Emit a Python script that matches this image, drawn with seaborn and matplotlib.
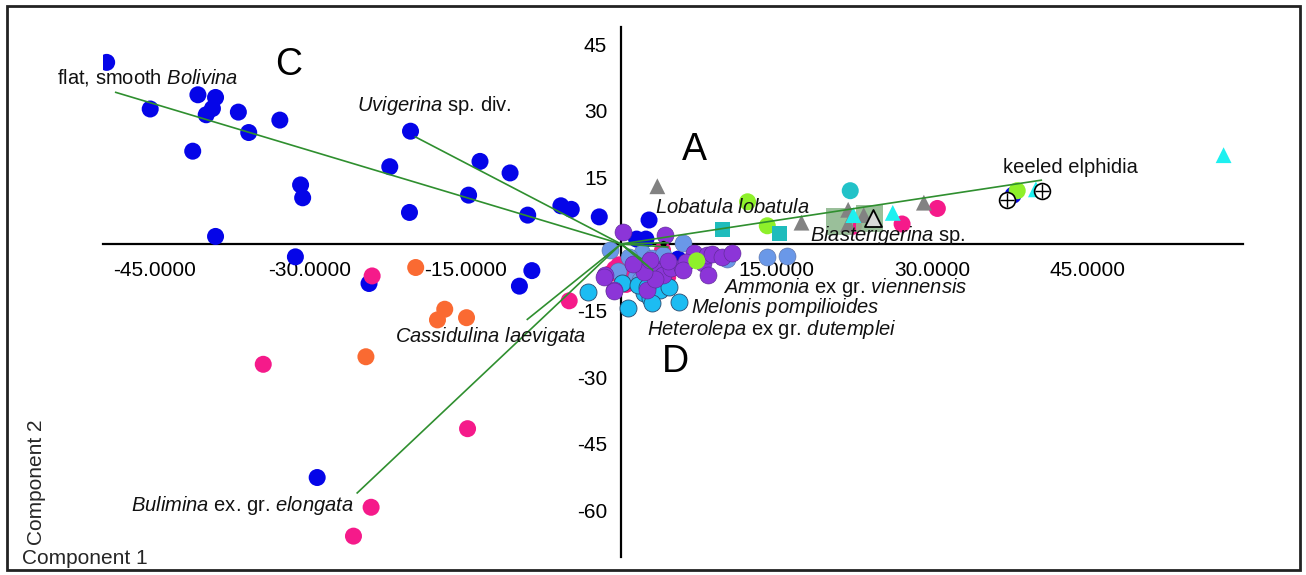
import numpy as np
import pandas as pd
import matplotlib
matplotlib.use("Agg")
import matplotlib.pyplot as plt
from matplotlib.patches import Rectangle
import seaborn as sns

# ---------------- data (PCA scores, Component 1 / Component 2) ----------------
blue_x = [-49.6, -45.4, -40.8, -39.1, -39.4, -40.0, -36.9, -35.9, -32.9, -41.3, -30.9, -30.7,
          -39.1, -31.4, -22.3, -20.3, -20.4, -13.6, -14.7, -10.7, -9.0, -5.8, -4.8, -2.1,
          -8.6, -9.8, -24.3, -29.3, 2.7, 1.5, 2.4, 5.5, 4.5, 37.8]
blue_y = [40.9, 30.4, 33.6, 33.0, 30.5, 29.1, 29.7, 25.1, 27.9, 20.9, 13.3, 10.4,
          1.7, -2.9, 17.4, 25.4, 7.1, 18.6, 11.0, 16.0, 6.5, 8.6, 7.8, 6.1,
          -6.0, -9.5, -8.9, -52.6, 5.4, 1.1, 1.1, -3.4, -6.8, 11.0]

pink_x = [-24.0, -34.5, -14.8, -24.1, -25.8, -5.0, -0.2, 0.6, -0.6, 0.9, 1.1, 4.0, 4.5,
          0.5, -1.0, 22.4, 27.1, 30.5]
pink_y = [-7.2, -27.1, -41.6, -59.3, -65.8, -12.8, -4.7, -6.0, -5.6, -7.6, -8.6, -1.4, -7.4,
          -9.1, -6.6, 4.0, 4.5, 8.0]

orange_x = [-19.8, -17.0, -17.7, -14.9, -24.6]
orange_y = [-5.3, -14.7, -17.1, -16.6, -25.4]

cornflower_x = [-1.1, 2.0, 3.0, 6.0, 1.4, 1.8, 10.2, 14.1, 16.0, 0.8, 4.0, -0.3, 2.6]
cornflower_y = [-1.4, -2.1, -3.2, 0.2, -7.4, -8.1, -3.4, -2.9, -2.7, -3.0, -2.5, -6.0, -4.2]

skyblue_x = [-3.2, 0.1, 0.7, 2.2, 2.8, 3.6, 3.8, 4.6, 5.6, 1.6, 3.0, 2.5]
skyblue_y = [-10.9, -8.9, -14.5, -11.1, -12.2, -8.9, -10.4, -9.6, -13.0, -9.2, -13.2, -9.8]

purple_x = [0.2, 4.2, -1.5, -0.7, 2.5, 3.0, 3.5, 4.0, 3.3, 2.2, 4.8, 5.9, 7.0, 7.9, 8.4,
            6.3, 8.3, 8.8, 9.7, 10.7, 6.0, -1.6, -0.7, 1.2, 2.8, 4.5]
purple_y = [2.8, 2.0, -7.0, -10.4, -10.4, -5.0, -6.0, -7.0, -8.0, -6.2, -5.5, -5.1, -2.1,
            -4.3, -7.0, -4.0, -2.5, -2.2, -2.9, -2.1, -5.9, -7.4, -10.7, -4.5, -3.5, -3.8]

green_x = [12.2, 14.1, 38.2, 7.3]
green_y = [9.5, 4.1, 12.0, -3.8]

tealsq_x = [9.8, 15.3]
tealsq_y = [3.3, 2.4]

turq_x = [22.1]
turq_y = [12.0]

bigsq_x = [21.1, 24.0]
bigsq_y = [5.0, 5.8]

graytri_x = [3.5, 17.4, 21.9, 21.9, 23.4, 29.2]
graytri_y = [13.0, 4.8, 7.7, 4.5, 6.5, 9.3]

cyantri_x = [26.2, 22.4, 40.0, 58.1]
cyantri_y = [7.0, 6.5, 12.3, 20.0]

opentri_x = [24.3]
opentri_y = [5.8]

oplus_x = [37.2, 40.6]
oplus_y = [9.9, 12.0]

dot_x = [4.1]
dot_y = [0.0]

# Loadings (biplot vectors)
vec_names = ["flat, smooth Bolivina", "Uvigerina sp. div.", "keeled elphidia",
             "Lobatula lobatula", "Biasterigerina sp.", "Ammonia ex gr. viennensis",
             "Melonis pompilioides", "Heterolepa ex gr. dutemplei",
             "Cassidulina laevigata", "Bulimina ex. gr. elongata"]
vec_x = [-48.8, -19.9, 40.6, 4.6, 4.6, 2.0, 3.1, 2.6, -9.1, -25.5]
vec_y = [34.2, 24.2, 14.4, 0.3, -0.7, -3.4, -6.0, -5.0, -17.1, -56.2]

x_ticks = [-45, -30, -15, 15, 30, 45]
y_ticks = [45, 30, 15, -15, -30, -45, -60]
x_ticklabels = ["-45.0000", "-30.0000", "-15.0000", "15.0000", "30.0000", "45.0000"]
y_ticklabels = ["45", "30", "15", "-15", "-30", "-45", "-60"]

# ---------------- styling ----------------
sns.set_style("white")
plt.rcParams['font.family'] = ['Liberation Sans', 'DejaVu Sans']
plt.rcParams['mathtext.fontset'] = 'custom'
plt.rcParams['mathtext.rm'] = 'Liberation Sans'
plt.rcParams['mathtext.it'] = 'Liberation Sans:italic'
plt.rcParams['mathtext.bf'] = 'Liberation Sans:bold'

W, H = 1306, 575
fig = plt.figure(figsize=(W / 100, H / 100), dpi=100)
fig.patch.set_facecolor("white")

x0, x1 = -50.0, 60.0
y0, y1 = -70.5, 48.8
px_left, px_right = 102.5, 1243.3
px_top, px_bot = 27.3, 557.0
ax = fig.add_axes([px_left / W, 1 - px_bot / H, (px_right - px_left) / W, (px_bot - px_top) / H])
ax.set_xlim(x0, x1)
ax.set_ylim(y0, y1)
ax.set_facecolor("white")

S = 150
groups = [
    (blue_x, blue_y, dict(color="#0505e8", marker="o", s=S, edgecolor="none", linewidth=0)),
    (pink_x, pink_y, dict(color="#f51a8a", marker="o", s=S, edgecolor="none", linewidth=0)),
    (orange_x, orange_y, dict(color="#fa6a32", marker="o", s=S, edgecolor="none", linewidth=0)),
    (cornflower_x, cornflower_y, dict(color="#6a98e8", marker="o", s=S, edgecolor="#5a6fa0", linewidth=0.4)),
    (skyblue_x, skyblue_y, dict(color="#1cbcf2", marker="o", s=S, edgecolor="#2a4a70", linewidth=0.6)),
    (purple_x, purple_y, dict(color="#8c35d8", marker="o", s=S, edgecolor="#5a2a90", linewidth=0.4)),
    (green_x, green_y, dict(color="#8ef02a", marker="o", s=S, edgecolor="none", linewidth=0)),
    (bigsq_x, bigsq_y, dict(color="#8fb88f", marker="s", s=380, edgecolor="none", linewidth=0, alpha=0.9)),
    (tealsq_x, tealsq_y, dict(color="#1fbcbc", marker="s", s=120, edgecolor="none", linewidth=0)),
    (turq_x, turq_y, dict(color="#22c2c8", marker="o", s=S, edgecolor="none", linewidth=0)),
    (graytri_x, graytri_y, dict(color="#828282", marker="^", s=130, edgecolor="none", linewidth=0)),
    (cyantri_x, cyantri_y, dict(color="#1ef0f0", marker="^", s=130, edgecolor="none", linewidth=0)),
    (opentri_x, opentri_y, dict(color="#d9d9d9", marker="^", s=150, edgecolor="black", linewidth=1.3)),
    (oplus_x, oplus_y, dict(color="white", marker="o", s=130, edgecolor="black", linewidth=1.2)),
    (oplus_x, oplus_y, dict(color="black", marker="+", s=100, linewidth=1.0)),
    (dot_x, dot_y, dict(color="black", marker="o", s=20, edgecolor="none", linewidth=0)),
]
for i, (gx, gy, kw) in enumerate(groups):
    df = pd.DataFrame({"x": gx, "y": gy})
    sns.scatterplot(data=df, x="x", y="y", ax=ax, legend=False, zorder=3 + i * 0.01, **kw)

# biplot vectors
for vx, vy in zip(vec_x, vec_y):
    ax.plot([0, vx], [0, vy], color="#2f8f2f", lw=1.2, zorder=4, solid_capstyle="butt")

# axes through origin
for side in ["top", "right"]:
    ax.spines[side].set_visible(False)
ax.spines["left"].set_position(("data", 0))
ax.spines["bottom"].set_position(("data", 0))
for side in ["left", "bottom"]:
    ax.spines[side].set_linewidth(1.6)
    ax.spines[side].set_color("black")
    ax.spines[side].set_zorder(2)
ax.set_xticks(x_ticks)
ax.set_xticklabels(x_ticklabels)
ax.set_yticks(y_ticks)
ax.set_yticklabels(y_ticklabels)
ax.tick_params(axis="both", direction="out", length=7, width=1.5, labelsize=15, colors="black")
ax.tick_params(axis="x", pad=5)
ax.tick_params(axis="y", pad=3)
ax.set_xlabel("")
ax.set_ylabel("")
ax.grid(False)

# labels
label_text = [
    "flat, smooth $\\mathit{Bolivina}$",
    "$\\mathit{Uvigerina}$ sp. div.",
    "keeled elphidia",
    "$\\mathit{Lobatula\\ lobatula}$",
    "$\\mathit{Biasterigerina}$ sp.",
    "$\\mathit{Ammonia}$ ex gr. $\\mathit{viennensis}$",
    "$\\mathit{Melonis\\ pompilioides}$",
    "$\\mathit{Heterolepa}$ ex gr. $\\mathit{dutemplei}$",
    "$\\mathit{Cassidulina\\ laevigata}$",
    "$\\mathit{Bulimina}$ ex. gr. $\\mathit{elongata}$",
]
label_pos = [(-54.4, 37.4), (-25.5, 31.3), (36.8, 17.3), (3.3, 8.3), (18.2, 2.0),
             (9.8, -9.8), (6.7, -14.4), (2.5, -19.3), (-21.8, -20.9), (-47.3, -58.8)]
for t, (lx, ly) in zip(label_text, label_pos):
    ax.text(lx, ly, t, fontsize=14.5, ha="left", va="center", color="#111111", zorder=6, clip_on=False)

for t, (lx, ly) in zip(["C", "A", "D"], [(-32.1, 40.3), (7.1, 21.2), (5.2, -26.6)]):
    ax.text(lx, ly, t, fontsize=27, ha="center", va="center", color="black", zorder=6)

fig.text(22 / W, 1 - 558 / H, "Component 1", fontsize=15, ha="left", va="center")
fig.text(36 / W, 1 - 482 / H, "Component 2", fontsize=15, ha="center", va="center", rotation=90)

fig.patches.append(Rectangle((7 / W, 1 - 570 / H), (1300 - 7) / W, (570 - 6) / H,
                             transform=fig.transFigure, fill=False, lw=2, ec="#222222"))

fig.savefig("out.png", dpi=100, facecolor="white")
